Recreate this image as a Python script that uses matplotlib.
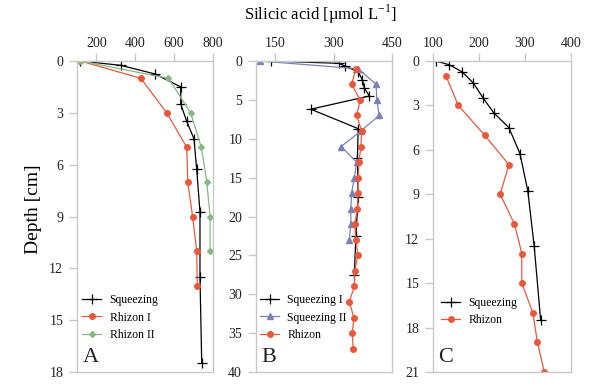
import matplotlib.pyplot as plt

plt.rcParams['font.family'] = ['Liberation Serif', 'DejaVu Serif']

# Panel A
a_sq_x = [115, 325, 501, 634, 634, 665, 702, 716, 733, 733, 742]
a_sq_d = [0, 0.25, 0.75, 1.5, 2.5, 3.5, 4.5, 6.25, 8.75, 12.5, 17.5]
a_r1_x = [118, 428, 562, 665, 670, 695, 716, 719]
a_r1_d = [0, 1, 3, 5, 7, 9, 11, 13]
a_r2_x = [118, 570, 685, 740, 768, 785, 785]
a_r2_d = [0, 1, 3, 5, 7, 9, 11]

# Panel B
b_sq1_x = [138, 313, 329, 363, 374, 379, 392, 241, 363, 361, 363, 357, 353]
b_sq1_d = [0, 0.3, 0.65, 1.4, 2.45, 3.5, 4.5, 6.2, 8.7, 12.5, 17.5, 22.5, 27.5]
b_sq2_x = [110, 363, 409, 411, 417, 370, 319, 359, 353, 346, 344, 344, 340]
b_sq2_d = [0, 1, 3, 5, 7, 9, 11, 13, 15, 17, 19, 21, 23]
b_rh_x = [357, 346, 368, 359, 372, 370, 365, 363, 363, 361, 354, 357, 362,
          354, 353, 340, 352, 348, 350]
b_rh_d = [1, 3, 5, 7, 9, 11, 13, 15, 17, 19, 21, 23, 25, 27, 29, 31, 33, 35, 37]

# Panel C
c_sq_x = [106, 135, 164, 188, 209, 232, 265, 289, 306, 320, 334]
c_sq_d = [0, 0.25, 0.75, 1.5, 2.5, 3.5, 4.5, 6.25, 8.75, 12.5, 17.5]
c_rh_x = [128, 155, 212, 265, 246, 277, 293, 293, 317, 327, 342]
c_rh_d = [1, 3, 5, 7, 9, 11, 13, 15, 17, 19, 21]

red = '#e9583b'
green = '#86b883'
blue = '#7c80b8'
grey = '#c8c8c8'

fig = plt.figure(figsize=(6, 3.88), dpi=100)
axA = fig.add_axes([77/600, 1-372/388, 136/600, 311/388])
axB = fig.add_axes([256/600, 1-372/388, 136/600, 311/388])
axC = fig.add_axes([433/600, 1-372/388, 138/600, 311/388])

sq = dict(color='black', marker='+', markersize=7, lw=0.9, mew=0.9)

axA.plot(a_sq_x, a_sq_d, label='Squeezing', **sq)
axA.plot(a_r1_x, a_r1_d, color=red, marker='o', markersize=4, lw=0.9, label='Rhizon I')
axA.plot(a_r2_x, a_r2_d, color=green, marker='D', markersize=3, lw=0.9, label='Rhizon II')
axA.set_xlim(100, 800)
axA.set_xticks([200, 400, 600, 800])
axA.set_ylim(18, 0)
axA.set_yticks(range(0, 19, 3))

axB.plot(b_sq1_x, b_sq1_d, label='Squeezing I', **sq)
axB.plot(b_sq2_x, b_sq2_d, color=blue, marker='^', markersize=4, lw=0.9, label='Squeezing II')
axB.plot(b_rh_x, b_rh_d, color=red, marker='o', markersize=4, lw=0.9, label='Rhizon')
axB.set_xlim(100, 450)
axB.set_xticks([150, 300, 450])
axB.set_ylim(40, 0)
axB.set_yticks(range(0, 41, 5))

axC.plot(c_sq_x, c_sq_d, label='Squeezing', **sq)
axC.plot(c_rh_x, c_rh_d, color=red, marker='o', markersize=4, lw=0.9, label='Rhizon')
axC.set_xlim(100, 400)
axC.set_xticks([100, 200, 300, 400])
axC.set_ylim(21, 0)
axC.set_yticks(range(0, 22, 3))

for ax, letter, lx, ly in [(axA, 'A', 0.04, 0.10), (axB, 'B', 0.03, 0.10), (axC, 'C', 0.06, 0.148)]:
    for s in ax.spines.values():
        s.set_color(grey)
        s.set_linewidth(1)
    ax.xaxis.tick_top()
    ax.tick_params(axis='both', colors=grey, labelcolor='#222222', labelsize=10,
                   length=6, width=1, direction='out')
    ax.tick_params(axis='x', pad=2)
    ax.tick_params(axis='y', pad=4)
    ax.grid(False)
    ax.text(0.04, 0.015, letter, transform=ax.transAxes, fontsize=16,
            ha='left', va='bottom', color='#222222')
    ax.legend(loc='lower left', bbox_to_anchor=(lx, ly), frameon=False,
              fontsize=8.5, borderpad=0, borderaxespad=0, handlelength=1.6,
              handletextpad=0.7, labelspacing=0.45)

fig.text(0.535, 1-14/388, 'Silicic acid [µmol L$^{\\mathregular{-1}}$]', ha='center', va='center', fontsize=12)
fig.text(0.055, 0.46, 'Depth [cm]', rotation=90, ha='center', va='center', fontsize=14)

fig.savefig('out.png', dpi=100)
